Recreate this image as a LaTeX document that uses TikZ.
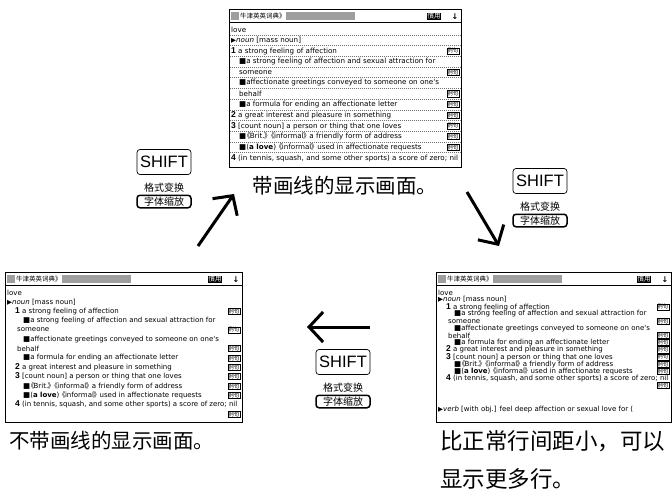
\documentclass[tikz,border=0pt]{standalone}
\usepackage{fontspec}
\setmainfont{Liberation Sans}
\newfontfamily\cjk{Noto Sans CJK SC}
\newfontfamily\sym{DejaVu Sans}
\usetikzlibrary{arrows.meta}
\newcommand\tri{{\fontsize{6.5}{6.5}\selectfont ▶}}
\newcommand\blt{{\fontsize{7.5}{7.5}\selectfont ■}}
\newcommand\nm[1]{{\rmfamily\bfseries\fontsize{8.5}{8.5}\selectfont #1}}
\newcommand\lb{{\cjk\kern-3pt《\kern-0.6pt}}
\newcommand\rb{{\cjk\kern-0.6pt》\kern-3pt}}
\newcommand\scrsz{7}
\tikzset{
  scrframe/.style={draw, line width=0.9pt},
  hatch/.style={fill=black!38},
  hdr/.style={anchor=west, inner sep=0pt, font=\cjk\fontsize{6.5}{6.5}\selectfont},
  inv/.style={fill=black, text=white, inner sep=0.8pt, font=\cjk\fontsize{6.5}{6.5}\selectfont},
  txt/.style={anchor=west, inner sep=0pt, font=\sym\fontsize{\scrsz}{\scrsz}\selectfont},
  tagbox/.style={draw, line width=0.45pt, anchor=east, inner sep=0.5pt, font=\cjk\fontsize{5.5}{5.5}\selectfont},
  dsh/.style={draw=black!55, line width=0.4pt, dash pattern=on 1pt off 1pt},
  keybox/.style={draw, line width=0.7pt, rounded corners=3pt, minimum width=54pt, minimum height=25pt, inner sep=0pt, font=\fontsize{16.5}{16.5}\selectfont},
  smalltxt/.style={inner sep=0pt, font=\cjk\fontsize{10}{10}\selectfont},
  zoombox/.style={draw, line width=1.5pt, rounded corners=3pt, minimum width=54pt, minimum height=12.5pt, inner sep=0.5pt, font=\cjk\fontsize{10}{10}\selectfont},
  captxt/.style={inner sep=0pt, font=\cjk\fontsize{20.5}{20.5}\selectfont},
  captxtr/.style={anchor=west, inner sep=0pt, font=\cjk\fontsize{22.5}{22.5}\selectfont},
  bigarrow/.style={line width=3pt, -{Straight Barb[length=14pt,width=30pt]}}
}
% #1 prefix, #2 x0, #3 y0, #4 pitch, #5 number x, #6 continuation x, #7 bullet x, #8 width, #9 height
\newcommand\scrn[9]{%
\begin{scope}[shift={(#2,#3)}]
  \draw[scrframe] (0,0) rectangle (#8,#9);
  \fill[hatch] (2,3) rectangle (10,11);
  \node[hdr] (#1hd) at (11,7.5) {牛津英英词典》};
  \fill[hatch] (57,3) rectangle (126,11);
  \node[inv] (#1gy) at (#8-27,7.5) {慣用};
  \node[font=\sym\bfseries\fontsize{8}{8}\selectfont, inner sep=0pt] (#1ar) at (#8-6,7.5) {↓};
  \draw[line width=0.6pt] (0,13.5) -- (#8,13.5);
  \node[txt] (#1la) at (2,20.5) {love};
  \node[txt] (#1lb) at (2,20.5+#4) {\tri\textit{noun} [mass noun]};
  \node[txt] (#1lc) at (#5,20.5+2*#4) {\nm{1} a strong feeling of affection};
  \node[txt] (#1ld) at (#7,20.5+3*#4) {\blt a strong feeling of affection and sexual attraction for};
  \node[txt] (#1le) at (#6,20.5+4*#4) {someone};
  \node[txt] (#1lf) at (#7,20.5+5*#4) {\blt affectionate greetings conveyed to someone on one's};
  \node[txt] (#1lg) at (#6,20.5+6*#4) {behalf};
  \node[txt] (#1lh) at (#7,20.5+7*#4) {\blt a formula for ending an affectionate letter};
  \node[txt] (#1li) at (#5,20.5+8*#4) {\nm{2} a great interest and pleasure in something};
  \node[txt] (#1lj) at (#5,20.5+9*#4) {\nm{3} [count noun] a person or thing that one loves};
  \node[txt] (#1lk) at (#7,20.5+10*#4) {\blt\lb Brit.\rb\ \lb informal\rb\ a friendly form of address};
  \node[txt] (#1ll) at (#7,20.5+11*#4) {\blt(\textbf{a love}) \lb informal\rb\ used in affectionate requests};
  \node[txt] (#1lm) at (#5,20.5+12*#4) {\nm{4} (in tennis, squash, and some other sports) a score of zero; nil};
  \node[tagbox] (#1tc) at (#8-2,20.5+2*#4) {例句};
  \node[tagbox] (#1te) at (#8-2,20.5+4*#4) {例句};
  \node[tagbox] (#1tg) at (#8-2,20.5+6*#4) {例句};
  \node[tagbox] (#1th) at (#8-2,20.5+7*#4) {例句};
  \node[tagbox] (#1ti) at (#8-2,20.5+8*#4) {例句};
  \node[tagbox] (#1tj) at (#8-2,20.5+9*#4) {例句};
  \node[tagbox] (#1tk) at (#8-2,20.5+10*#4) {例句};
  \node[tagbox] (#1tl) at (#8-2,20.5+11*#4) {例句};
\end{scope}}
% #1 prefix, #2 x, #3 y of SHIFT key centre
\newcommand\shiftgrp[3]{%
  \node[keybox] (#1k) at (#2,#3) {SHIFT};
  \node[smalltxt] (#1f) at (#2,#3+25.5) {格式变换};
  \node[zoombox] (#1z) at (#2,#3+39.5) {字体缩放};
}
\begin{document}
\begin{tikzpicture}[x=1pt,y=-1pt]
  \useasboundingbox (0,0) rectangle (672,490);
  \fill[white] (0,0) rectangle (672,490);
  % top screen (with dashed lines)
  \renewcommand\scrsz{7.15}
  \scrn{T}{229}{9}{10.7}{2}{10}{10}{232}{158}
  \begin{scope}[shift={(229,9)}]
    \foreach \k in {0,...,11} \draw[dsh] (0.5,20.5+\k*10.7+5.35) -- (231.5,20.5+\k*10.7+5.35);
  \end{scope}
  % left screen
  \renewcommand\scrsz{7}
  \scrn{L}{5}{272}{9.35}{10}{12}{18}{237}{150}
  \node[tagbox] (Ltm) at (5+235,272+20.5+13*9.35) {例句};
  % right screen
  \scrn{R}{436}{272}{7.15}{10}{12}{18}{235}{150}
  \node[tagbox] (Rtm) at (436+233,272+20.5+13*7.15) {例句};
  \node[txt] (Rln) at (436+2,272+138) {\tri\textit{verb} [with obj.] feel deep affection or sexual love for (};
  % captions
  \node[captxt] (capT) at (345,186) {带画线的显示画面。};
  \node[captxt, anchor=west] (capL) at (9,441) {不带画线的显示画面。};
  \node[captxtr] (capR1) at (440,441) {比正常行间距小，可以};
  \node[captxtr] (capR2) at (440,479) {显示更多行。};
  % SHIFT groups
  \shiftgrp{A}{164}{162}
  \shiftgrp{B}{540}{181}
  \shiftgrp{C}{343}{362}
  % arrows
  \coordinate (ua) at (198,246); \coordinate (ub) at (234,194);
  \coordinate (da) at (467,192); \coordinate (db) at (499,246);
  \coordinate (la) at (370,327); \coordinate (lb) at (307,327);
  \draw[bigarrow] (ua) -- (ub);
  \draw[bigarrow] (da) -- (db);
  \draw[bigarrow] (la) -- (lb);
\end{tikzpicture}
\end{document}
